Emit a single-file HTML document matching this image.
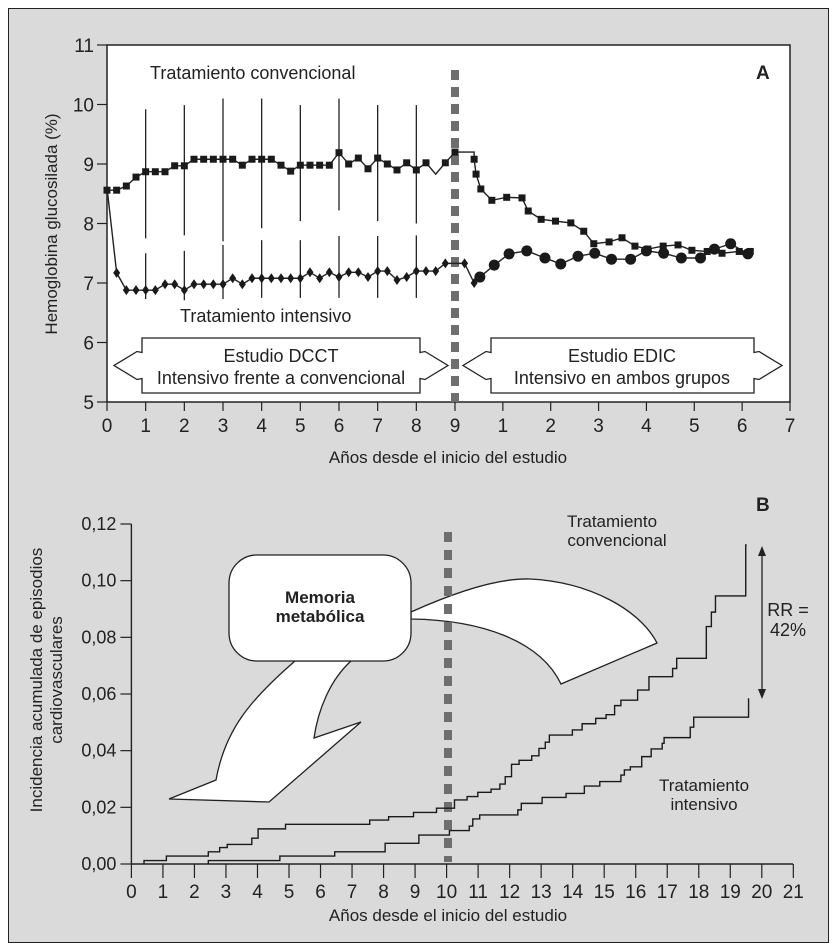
<!DOCTYPE html>
<html><head><meta charset="utf-8">
<style>
html,body{margin:0;padding:0;background:#fff;}
svg{display:block;}
text{font-family:"Liberation Sans Narrow","Liberation Sans",sans-serif;fill:#222;}
</style></head>
<body>
<svg id="fig" width="835" height="950" viewBox="0 0 835 950" xmlns="http://www.w3.org/2000/svg">
  <rect x="8.5" y="8.5" width="820" height="934" fill="#dadada" stroke="#222" stroke-width="1"/>
  <g id="panelA"></g>
  <g id="panelB"></g>
</svg>
<script>
// ---------- Panel A data ----------
const aYTicks = [5,6,7,8,9,10,11];
const aXTickTimes = [0,1,2,3,4,5,6,7,8,9,10,11,12,13,14,15,16];
const aXTickLabels = ["0","1","2","3","4","5","6","7","8","9","1","2","3","4","5","6","7"];
// time axis: 0-9 = DCCT years, >9 = 9 + EDIC years
const convTimes = [0,0.25,0.5,0.75,1,1.25,1.5,1.75,2,2.25,2.5,2.75,3,3.25,3.5,3.75,4,4.25,4.5,4.75,5,5.25,5.5,5.75,6,6.25,6.5,6.75,7,7.25,7.5,7.75,8,8.25,8.5,8.75,9.0,9.4,9.4,9.44,9.54,9.77,10.08,10.4,10.53,10.8,11.1,11.42,11.69,11.9,12.22,12.49,12.76,13.03,13.35,13.66,13.95,14.27,14.58,14.94,15.17];
const convValues = [8.56,8.56,8.63,8.78,8.87,8.87,8.87,8.97,8.97,9.08,9.08,9.08,9.08,9.08,8.98,9.08,9.08,9.08,8.98,8.88,8.98,8.98,8.98,8.98,9.19,9.0,9.1,8.92,9.1,9.0,8.9,9.02,8.9,9.02,8.83,9.02,9.2,9.2,9.08,8.83,8.58,8.39,8.44,8.43,8.21,8.07,8.04,8.01,7.87,7.66,7.69,7.76,7.62,7.57,7.62,7.64,7.55,7.53,7.5,7.53,7.53];
const intTimes = [0,0.25,0.5,0.75,1,1.25,1.5,1.75,2,2.25,2.5,2.75,3,3.25,3.5,3.75,4,4.25,4.5,4.75,5,5.25,5.5,5.75,6,6.25,6.5,6.75,7,7.25,7.5,7.75,8,8.25,8.5,8.75,9.2,9.4];
const intValues = [8.6,7.17,6.88,6.88,6.88,6.88,6.98,6.98,6.88,6.98,6.98,6.98,6.98,7.08,6.98,7.08,7.08,7.08,7.08,7.08,7.08,7.18,7.08,7.18,7.1,7.18,7.18,7.1,7.2,7.2,7.05,7.1,7.2,7.2,7.2,7.33,7.33,7.0];
const edicIntTimes = [9.52,9.82,10.13,10.5,10.88,11.21,11.57,11.92,12.27,12.67,13.0,13.36,13.73,14.13,14.42,14.76,15.12];
const edicIntValues = [7.1,7.3,7.49,7.54,7.42,7.32,7.45,7.5,7.4,7.4,7.54,7.5,7.42,7.42,7.57,7.66,7.49];
const barTimes = [1,2,3,4,5,6,7,8];
const convBarHi = [9.92,9.99,10.1,10.1,9.99,10.1,9.99,9.99];
const convBarLo = [7.75,7.8,7.7,7.92,8.04,8.22,8.04,8.0];
const intBarHi = [7.5,7.54,7.64,7.72,7.72,7.79,7.79,7.8];
const intBarLo = [6.73,6.71,6.73,6.75,6.75,6.75,6.75,6.75];

// ---------- Panel B data ----------
const bYTicks = [0,0.02,0.04,0.06,0.08,0.10,0.12];
const bYTickLabels = ["0,00","0,02","0,04","0,06","0,08","0,10","0,12"];
const bXTicks = [0,1,2,3,4,5,6,7,8,9,10,11,12,13,14,15,16,17,18,19,20,21];
const convStepTimes = [0.40,1.11,2.44,2.80,3.04,3.82,4.02,4.89,7.56,8.16,8.95,9.68,10.25,10.65,10.99,11.41,11.69,11.86,12.06,12.30,12.70,12.93,13.13,13.26,13.99,14.30,14.73,15.06,15.33,15.53,16.06,16.42,17.17,17.30,18.24,18.40,18.53,19.49];
const convStepValues = [0.0012,0.0028,0.0043,0.0058,0.0069,0.0091,0.0124,0.0140,0.0155,0.0167,0.0182,0.0197,0.0226,0.0238,0.0253,0.0264,0.0282,0.0308,0.0352,0.0366,0.0382,0.0408,0.0430,0.0455,0.0473,0.0495,0.0514,0.0527,0.0559,0.0578,0.0614,0.0661,0.0690,0.0726,0.0838,0.0889,0.0946,0.1126];
const convStepEnd = 19.52;
const intStepTimes = [2.44,4.71,6.45,8.05,9.12,10.09,10.72,10.83,11.05,12.26,12.37,13.03,13.79,14.37,14.86,15.53,15.64,15.83,16.19,16.49,16.84,16.90,17.73,17.84,19.58];
const intStepValues = [0.0012,0.0028,0.0043,0.0073,0.0102,0.0118,0.0134,0.0159,0.0173,0.0191,0.0214,0.0235,0.0249,0.0275,0.0291,0.0314,0.0332,0.0343,0.0379,0.0406,0.0426,0.0446,0.0483,0.0518,0.0585];
const intStepEnd = 19.58;

const NS = "http://www.w3.org/2000/svg";
function mk(parent, tag, attrs, txt){
  const e = document.createElementNS(NS, tag);
  for (const k in attrs) e.setAttribute(k, attrs[k]);
  if (txt !== undefined) e.textContent = txt;
  parent.appendChild(e);
  return e;
}

// ---------- Panel A ----------
(function(){
  const g = document.getElementById('panelA');
  const L=107, R=790, T=45, B=402, X9=455;
  const xA = t => t <= 9 ? L + t*(X9-L)/9 : X9 + (t-9)*(R-X9)/7;
  const yA = v => B - (v-5)*(B-T)/6;
  const bg = mk(g,'rect',{x:L,y:T,width:R-L,height:B-T,fill:'#fff',stroke:'#222','stroke-width':1.5});
  
  
  aYTicks.forEach(v=>{
    const tk = mk(g,'line',{x1:L-10,x2:L,y1:yA(v),y2:yA(v),stroke:'#222','stroke-width':1.2});
    
    
    const tl = mk(g,'text',{x:L-13,y:yA(v)+7,'text-anchor':'end','font-size':19},String(v));
    
    
  });
  aXTickTimes.forEach((t,i)=>{
    const tk = mk(g,'line',{x1:xA(t),x2:xA(t),y1:B,y2:B+9,stroke:'#222','stroke-width':1.2});
    
    
    const tl = mk(g,'text',{x:xA(t),y:B+30,'text-anchor':'middle','font-size':19},aXTickLabels[i]);
    
    
  });
  const xt = mk(g,'text',{x:448,y:463,'text-anchor':'middle','font-size':17},'Años desde el inicio del estudio');
  
  
  const yt = mk(g,'text',{x:0,y:0,'text-anchor':'middle','font-size':17,transform:'translate(57,224) rotate(-90)'},'Hemoglobina glucosilada (%)');
  
  

  // error bars
  barTimes.forEach((t,i)=>{
    const b1 = mk(g,'line',{x1:xA(t),x2:xA(t),y1:yA(convBarHi[i]),y2:yA(convBarLo[i]),stroke:'#222','stroke-width':1.3});
    
    
    const b2 = mk(g,'line',{x1:xA(t),x2:xA(t),y1:yA(intBarHi[i]),y2:yA(intBarLo[i]),stroke:'#222','stroke-width':1.3});
    
    
  });

  // study boxes
  function studyBox(x1,x2,y1,y2,lines,cx,name){
    const ym=(y1+y2)/2, d=13, n=5, tip=28;
    const p = `M${x1},${y1} L${x2},${y1} L${x2},${ym-d} L${x2+n},${ym-d-1} L${x2+tip},${ym} L${x2+n},${ym+d+1} L${x2},${ym+d} L${x2},${y2} L${x1},${y2} L${x1},${ym+d} L${x1-n},${ym+d+1} L${x1-tip},${ym} L${x1-n},${ym-d-1} L${x1},${ym-d} Z`;
    const pe = mk(g,'path',{d:p,fill:'#fff',stroke:'#222','stroke-width':1.3});
    
    
    lines.forEach((s,i)=>{
      const te = mk(g,'text',{x:cx,y:y1+24+i*22,'text-anchor':'middle','font-size':18},s);
      
      
    });
  }
  studyBox(142,420,338,393,['Estudio DCCT','Intensivo frente a convencional'],281,'dcct-box');
  studyBox(491,754,338,393,['Estudio EDIC','Intensivo en ambos grupos'],622,'edic-box');

  // dashed line
  const dl = mk(g,'line',{x1:X9,x2:X9,y1:70,y2:402,stroke:'#6e6e6e','stroke-width':8,'stroke-dasharray':'10,7'});
  
  

  // series lines
  const convPts = convTimes.map((t,i)=>xA(t)+','+yA(convValues[i])).join(' ');
  const cl = mk(g,'polyline',{points:convPts,fill:'none',stroke:'#222','stroke-width':1.4});
  
  
  const intPts = intTimes.map((t,i)=>xA(t)+','+yA(intValues[i])).concat(edicIntTimes.map((t,i)=>xA(t)+','+yA(edicIntValues[i]))).join(' ');
  const il = mk(g,'polyline',{points:intPts,fill:'none',stroke:'#222','stroke-width':1.4});
  
  

  convTimes.forEach((t,i)=>{
    if (i===34 || i===37) return;
    const x=xA(t), y=yA(convValues[i]);
    const m = mk(g,'rect',{x:x-3.5,y:y-3.5,width:7,height:7,fill:'#1a1a1a'});
    
    
  });
  intTimes.forEach((t,i)=>{
    if (i===0) return;
    const x=xA(t), y=yA(intValues[i]);
    const m = mk(g,'path',{d:`M${x},${y-5} L${x+3.5},${y} L${x},${y+5} L${x-3.5},${y} Z`,fill:'#1a1a1a'});
    
    
  });
  edicIntTimes.forEach((t,i)=>{
    const m = mk(g,'circle',{cx:xA(t),cy:yA(edicIntValues[i]),r:5.5,fill:'#1a1a1a'});
    
    
  });

  const l1 = mk(g,'text',{x:150,y:79,'font-size':18},'Tratamiento convencional');
  
  
  const l2 = mk(g,'text',{x:180,y:322,'font-size':18},'Tratamiento intensivo');
  
  
  const pa = mk(g,'text',{x:756,y:79,'font-size':19,'font-weight':'bold'},'A');
  
  
})();

// ---------- Panel B ----------
(function(){
  const g = document.getElementById('panelB');
  const L=131.4, R=793, T=524, B=864;
  const xB = t => L + t*31.52;
  const yB = v => B - v*(B-T)/0.12;
  const ax = mk(g,'path',{d:`M${L},${T} L${L},${B} L${R},${B}`,fill:'none',stroke:'#222','stroke-width':1.4});
  
  
  bYTicks.forEach((v,i)=>{
    const tk = mk(g,'line',{x1:L-11,x2:L,y1:yB(v),y2:yB(v),stroke:'#222','stroke-width':1.2});
    
    
    const tl = mk(g,'text',{x:L-15,y:yB(v)+6,'text-anchor':'end','font-size':18},bYTickLabels[i]);
    
    
  });
  bXTicks.forEach(t=>{
    const tk = mk(g,'line',{x1:xB(t),x2:xB(t),y1:B,y2:B+14,stroke:'#222','stroke-width':1.2});
    
    
    const tl = mk(g,'text',{x:xB(t),y:B+34,'text-anchor':'middle','font-size':19},String(t));
    
    
  });
  const xt = mk(g,'text',{x:448,y:921,'text-anchor':'middle','font-size':17},'Años desde el inicio del estudio');
  
  
  const yt1 = mk(g,'text',{x:0,y:0,'text-anchor':'middle','font-size':17,transform:'translate(42,680) rotate(-90)'},'Incidencia acumulada de episodios');
  
  
  const yt2 = mk(g,'text',{x:0,y:0,'text-anchor':'middle','font-size':17,transform:'translate(62,680) rotate(-90)'},'cardiovasculares');
  
  

  // arrows (annotation)
  const a1 = mk(g,'path',{d:'M411,612 C460,590 500,578 530,579 C590,582 640,610 657,643 L561,684 C540,640 480,620 411,619 Z',fill:'#fff',stroke:'#222','stroke-width':1.3});
  
  
  const a2 = mk(g,'path',{d:'M295,661 C250,700 225,730 216,780 L169,799 L269,802 L361,722 L314,738 C318,710 330,680 351,661 Z',fill:'#fff',stroke:'#222','stroke-width':1.3});
  
  
  const bx = mk(g,'rect',{x:229,y:555,width:182,height:106,rx:28,ry:28,fill:'#fff',stroke:'#222','stroke-width':1.3});
  
  
  const m1 = mk(g,'text',{x:320,y:603,'text-anchor':'middle','font-size':17,'font-weight':'bold'},'Memoria');
  
  
  const m2 = mk(g,'text',{x:320,y:622,'text-anchor':'middle','font-size':17,'font-weight':'bold'},'metabólica');
  
  

  const dl = mk(g,'line',{x1:448,x2:448,y1:532,y2:862,stroke:'#6e6e6e','stroke-width':8,'stroke-dasharray':'10,8'});
  
  

  function stepPath(times, vals, end){
    let d = `M${xB(times[0])},${yB(0)}`;
    for (let i=0;i<times.length;i++){
      d += ` L${xB(times[i])},${i===0?yB(0):yB(vals[i-1])} L${xB(times[i])},${yB(vals[i])}`;
      const nx = i+1<times.length ? times[i+1] : end;
      d += ` L${xB(nx)},${yB(vals[i])}`;
    }
    return d;
  }
  const cs = mk(g,'path',{d:stepPath(convStepTimes,convStepValues,convStepEnd),fill:'none',stroke:'#1a1a1a','stroke-width':1.4});
  
  
  const is = mk(g,'path',{d:stepPath(intStepTimes,intStepValues,intStepEnd),fill:'none',stroke:'#1a1a1a','stroke-width':1.4});
  
  

  const rr = mk(g,'path',{d:'M762,552 L762,693',stroke:'#222','stroke-width':1.3,fill:'none'});
  
  
  const h1 = mk(g,'path',{d:'M762,546 L758,556 L766,556 Z',fill:'#222'});
  
  
  const h2 = mk(g,'path',{d:'M762,699 L758,689 L766,689 Z',fill:'#222'});
  
  
  const r1 = mk(g,'text',{x:788,y:616,'text-anchor':'middle','font-size':18},'RR =');
  
  
  const r2 = mk(g,'text',{x:788,y:636,'text-anchor':'middle','font-size':18},'42%');
  
  

  const c1 = mk(g,'text',{x:612,y:527,'text-anchor':'middle','font-size':17},'Tratamiento');
  
  
  const c2 = mk(g,'text',{x:617,y:546,'text-anchor':'middle','font-size':17},'convencional');
  
  
  const i1 = mk(g,'text',{x:704,y:791,'text-anchor':'middle','font-size':17},'Tratamiento');
  
  
  const i2 = mk(g,'text',{x:704,y:810,'text-anchor':'middle','font-size':17},'intensivo');
  
  
  const pb = mk(g,'text',{x:756,y:511,'font-size':19,'font-weight':'bold'},'B');
  
  
})();
</script>
</body></html>
